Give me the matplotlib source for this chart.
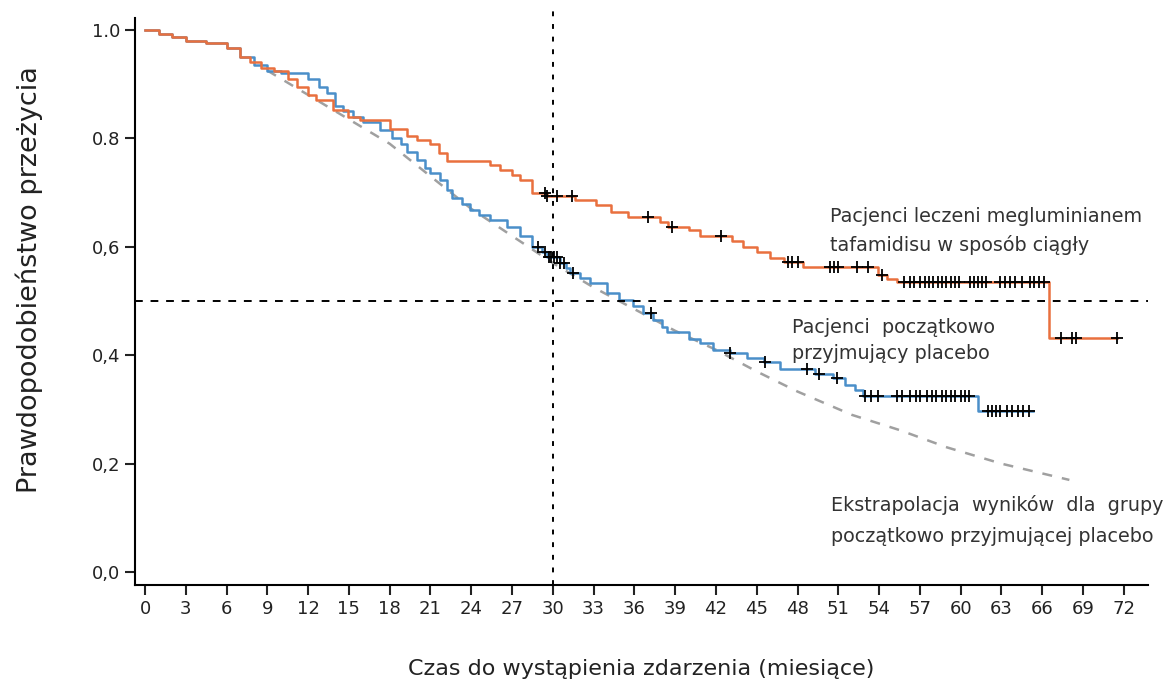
import numpy as np
import matplotlib
matplotlib.use("Agg")
import matplotlib.pyplot as plt

# Krzywa Kaplana-Meiera - tafamidis (leczenie ciagle)
tafa_t = [0, 1.0, 2.0, 3.0, 4.5, 6.0, 7.0, 7.7, 8.5, 9.5, 10.5, 11.2, 12.0, 12.6, 13.8,
          14.9, 15.8, 18.0, 19.3, 20.0, 21.0, 21.6, 22.2, 25.4, 26.1, 27.0, 27.6, 28.5,
          29.6, 31.6, 33.2, 34.3, 35.5, 37.9, 38.5, 40.0, 40.8, 43.2, 44.0, 45.0, 46.0,
          47.0, 48.4, 53.9, 54.6, 55.3, 66.5, 71.5]
tafa_s = [1.0, 0.993, 0.987, 0.98, 0.975, 0.967, 0.95, 0.94, 0.93, 0.925, 0.91, 0.895,
          0.88, 0.87, 0.853, 0.84, 0.834, 0.818, 0.805, 0.797, 0.79, 0.772, 0.758, 0.751,
          0.742, 0.733, 0.723, 0.70, 0.693, 0.686, 0.677, 0.664, 0.655, 0.645, 0.637,
          0.63, 0.62, 0.61, 0.60, 0.59, 0.58, 0.572, 0.563, 0.548, 0.54, 0.535, 0.432, 0.432]
tafa_cens = [29.4, 29.6, 30.3, 31.4, 37.0, 38.8, 42.4, 47.3, 47.6, 48.0, 50.4, 50.7, 51.0,
             52.4, 53.2, 54.2, 55.8, 56.3, 56.6, 57.0, 57.4, 57.7, 58.0, 58.3, 58.6, 58.9,
             59.3, 59.6, 59.9, 60.7, 61.0, 61.3, 61.6, 61.9, 62.9, 63.3, 63.6, 64.0, 64.5,
             65.1, 65.4, 65.8, 66.1, 67.4, 68.2, 68.5, 71.5]

# Krzywa Kaplana-Meiera - poczatkowo placebo
plac_t = [0, 1.0, 2.0, 3.0, 4.5, 6.0, 7.0, 8.0, 9.0, 10.0, 12.0, 12.8, 13.4, 14.0, 14.6,
          15.3, 16.0, 17.3, 18.2, 18.8, 19.3, 20.0, 20.6, 21.0, 21.7, 22.2, 22.6, 23.3,
          23.9, 24.6, 25.4, 26.6, 27.6, 28.5, 29.2, 29.6, 30.5, 31.0, 31.3, 32.0, 32.7,
          34.0, 34.9, 35.9, 36.6, 37.4, 38.0, 38.4, 40.0, 40.8, 41.8, 43.0, 44.3, 45.5,
          46.7, 49.3, 50.6, 51.5, 52.2, 52.8, 61.3, 65.3]
plac_s = [1.0, 0.993, 0.987, 0.98, 0.975, 0.967, 0.95, 0.935, 0.925, 0.92, 0.91, 0.895,
          0.884, 0.86, 0.85, 0.84, 0.83, 0.815, 0.80, 0.79, 0.775, 0.76, 0.745, 0.736,
          0.723, 0.705, 0.69, 0.678, 0.668, 0.658, 0.65, 0.636, 0.62, 0.60, 0.59, 0.581,
          0.57, 0.56, 0.552, 0.543, 0.533, 0.515, 0.502, 0.49, 0.478, 0.465, 0.452, 0.443,
          0.43, 0.423, 0.41, 0.404, 0.395, 0.387, 0.375, 0.366, 0.358, 0.345, 0.335,
          0.325, 0.298, 0.298]
plac_cens = [28.9, 29.4, 29.7, 29.9, 30.1, 30.3, 30.5, 30.8, 31.5, 37.2, 43.0, 45.6, 48.7,
             49.6, 50.9, 53.0, 53.4, 53.9, 55.3, 55.7, 56.3, 56.7, 57.0, 57.5, 57.9, 58.2,
             58.6, 58.9, 59.3, 59.6, 60.0, 60.3, 60.6, 62.0, 62.3, 62.6, 62.9, 63.4, 63.8,
             64.2, 64.6, 65.0]

# Ekstrapolacja dla grupy placebo
extra_t = [9, 12, 15, 18, 21, 24, 27, 30, 33, 36, 39, 42, 45, 48, 52, 55.5, 59, 63, 68]
extra_s = [0.925, 0.88, 0.835, 0.79, 0.73, 0.67, 0.62, 0.57, 0.525, 0.485, 0.445, 0.41,
           0.37, 0.333, 0.29, 0.262, 0.23, 0.20, 0.17]

xticks = list(range(0, 73, 3))
yticks = [0.0, 0.2, 0.4, 0.6, 0.8, 1.0]
ytick_labels = ['0,0', '0,2', '0,4', '0,6', '0.8', '1.0']


def surv_at(times, surv, pts):
    idx = np.searchsorted(times, pts, side='right') - 1
    return np.array(surv)[idx]


fig = plt.figure(figsize=(11.68, 6.9), dpi=100)
ax = fig.add_axes([0.1156, 0.152, 0.867, 0.822])

ax.plot(extra_t, extra_s, color='#a0a0a0', lw=1.8, dashes=(4, 4))
ax.step(plac_t, plac_s, where='post', color='#4a8fc9', lw=1.8)
ax.step(tafa_t, tafa_s, where='post', color='#e9703e', lw=1.8)

ax.plot(plac_cens, surv_at(plac_t, plac_s, plac_cens), ls='none', marker='+',
        color='black', ms=8, mew=1.3)
ax.plot(tafa_cens, surv_at(tafa_t, tafa_s, tafa_cens), ls='none', marker='+',
        color='black', ms=8, mew=1.3)

# linie odniesienia
ax.axhline(0.5, color='black', lw=1.4, dashes=(4, 4))
ax.plot([30, 30], [-0.024, 1.04], color='black', lw=1.4, dashes=(2.5, 4), clip_on=False)

ax.set_xlim(-0.735, 73.76)
ax.set_ylim(-0.024, 1.022)
ax.set_xticks(xticks)
ax.set_yticks(yticks)
ax.set_yticklabels(ytick_labels)
ax.tick_params(axis='both', labelsize=13, length=7, width=1.5, colors='#222222')
for s in ['top', 'right']:
    ax.spines[s].set_visible(False)
for s in ['left', 'bottom']:
    ax.spines[s].set_linewidth(1.5)

ax.set_ylabel('Prawdopodobieństwo przeżycia', fontsize=19.5, color='#222222')
ax.yaxis.set_label_coords(-0.091, 0.538)
ax.set_xlabel('Czas do wystąpienia zdarzenia (miesiące)', fontsize=16, color='#222222',
              labelpad=30)

tc = '#333333'
fs = 13.8
ax.text(50.4, 0.655, 'Pacjenci leczeni megluminianem', fontsize=fs, color=tc, va='center')
ax.text(50.4, 0.603, 'tafamidisu w sposób ciągły', fontsize=fs, color=tc, va='center')
ax.text(47.6, 0.452, 'Pacjenci  początkowo', fontsize=fs, color=tc, va='center')
ax.text(47.6, 0.404, 'przyjmujący placebo', fontsize=fs, color=tc, va='center')
ax.text(50.5, 0.124, 'Ekstrapolacja  wyników  dla  grupy', fontsize=fs, color=tc,
        va='center', clip_on=False)
ax.text(50.5, 0.065, 'początkowo przyjmującej placebo', fontsize=fs, color=tc,
        va='center', clip_on=False)

fig.savefig('out.png', dpi=100)
